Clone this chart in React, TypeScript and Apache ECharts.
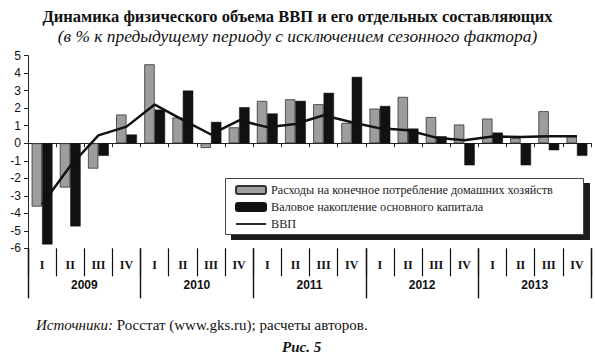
import React, { useEffect, useRef } from "react";
import * as echarts from "echarts";

const quarters = ["I", "II", "III", "IV", "I", "II", "III", "IV", "I", "II", "III", "IV", "I", "II", "III", "IV", "I", "II", "III", "IV"];
const years = ["2009", "2010", "2011", "2012", "2013"];
const consumption = [-3.62, -2.53, -1.45, 1.64, 4.51, 1.47, -0.27, 0.91, 2.42, 2.51, 2.23, 1.16, 1.98, 2.65, 1.5, 1.07, 1.41, 0.3, 1.83, 0.4];
const investment = [-5.78, -4.75, -0.72, 0.5, 1.92, 3.01, 1.22, 2.06, 1.7, 2.42, 2.88, 3.79, 2.13, 0.84, 0.4, -1.26, 0.61, -1.26, -0.4, -0.72];
const gdp = [-3.5, -1.3, 0.45, 0.95, 2.21, 1.34, 0.5, 1.31, 0.92, 1.1, 1.6, 1.2, 0.85, 0.74, 0.32, 0.17, 0.38, 0.36, 0.4, 0.4];
const yTicks = [-6, 5, 1];

const seriesNames = [
  "Расходы на конечное потребление домашних хозяйств",
  "Валовое накопление основного капитала",
  "ВВП",
];
const titleText = "Динамика физического объема ВВП и его отдельных составляющих";
const subtitleText = "(в % к предыдущему периоду с исключением сезонного фактора)";
const sourceLabel = "Источники:";
const sourceText = " Росстат (www.gks.ru); расчеты авторов.";
const figText = "Рис. 5";

const SERIF = "Liberation Serif";
const SANS = "Liberation Sans";

export default function App() {
  const ref = useRef<HTMLDivElement>(null);
  useEffect(() => {
    document.body.style.margin = "0";
    if (!ref.current) return;
    const chart = echarts.init(ref.current, null, { renderer: "svg" });
    const grid = { left: 28, right: 4, top: 55.7, bottom: 106.7 };
    chart.setOption({
      animation: false,
      backgroundColor: "#fff",
      title: [
        {
          text: titleText,
          left: "center",
          top: 3,
          textStyle: { fontFamily: SERIF, fontWeight: "bold", fontSize: 16.5, color: "#111" },
        },
        {
          text: subtitleText,
          left: "center",
          top: 22,
          textStyle: { fontFamily: SERIF, fontStyle: "italic", fontWeight: "normal", fontSize: 17.4, color: "#111" },
        },
        {
          text: "{i|" + sourceLabel + "}{n|" + sourceText + "}",
          left: 31,
          top: 312,
          textStyle: {
            fontWeight: "normal",
            rich: {
              i: { fontFamily: SERIF, fontStyle: "italic", fontWeight: "normal", fontSize: 15, color: "#111" },
              n: { fontFamily: SERIF, fontWeight: "normal", fontSize: 15, color: "#111" },
            },
          },
        },
        {
          text: figText,
          left: 277,
          top: 334,
          textStyle: { fontFamily: SERIF, fontStyle: "italic", fontWeight: "bold", fontSize: 15, color: "#111" },
        },
      ],
      grid,
      legend: {
        orient: "vertical",
        left: 235,
        top: 183,
        padding: 0,
        itemGap: 3,
        itemWidth: 30,
        itemHeight: 8,
        symbolKeepAspect: true,
        data: [
          { name: seriesNames[0] },
          { name: seriesNames[1] },
          { name: seriesNames[2], icon: "path://M0,0H30V1.8H0Z" },
        ],
        textStyle: { fontFamily: SERIF, fontSize: 12.2, color: "#222", lineHeight: 14 },
        z: 10,
      },
      graphic: [
        { type: "rect", left: 231, top: 183, shape: { width: 359, height: 57 }, style: { fill: "#1c1c1c" }, z: 5 },
        { type: "rect", left: 225, top: 178, shape: { width: 358, height: 56 }, style: { fill: "#fff", stroke: "#444", lineWidth: 1 }, z: 6 },
      ],
      xAxis: [
        {
          type: "category",
          data: quarters,
          axisLine: { onZero: true, lineStyle: { color: "#222", width: 1 } },
          axisTick: { show: true, length: 4, lineStyle: { color: "#222" } },
          axisLabel: { show: false },
          splitLine: { show: false },
        },
        {
          type: "category",
          data: quarters,
          position: "bottom",
          axisLine: { show: false, onZero: false },
          axisTick: { show: true, length: 28, interval: 0, lineStyle: { color: "#111", width: 1.2 } },
          axisLabel: { interval: 0, margin: 11, fontFamily: SERIF, fontSize: 12, color: "#111", fontWeight: "bold" },
        },
        {
          type: "category",
          data: years,
          position: "bottom",
          axisLine: { show: false, onZero: false },
          axisTick: { show: true, length: 50, interval: 0, lineStyle: { color: "#111", width: 1.4 } },
          axisLabel: { interval: 0, margin: 31, fontFamily: SANS, fontSize: 12, color: "#111", fontWeight: "bold" },
        },
      ],
      yAxis: {
        type: "value",
        min: yTicks[0],
        max: yTicks[1],
        interval: yTicks[2],
        axisLine: { show: true, lineStyle: { color: "#222", width: 1 } },
        axisTick: { show: true, length: 4, lineStyle: { color: "#222" } },
        splitLine: { show: false },
        axisLabel: { margin: 7, fontFamily: SANS, fontSize: 12, color: "#111" },
      },
      series: [
        {
          name: seriesNames[0],
          type: "bar",
          data: consumption,
          barGap: "0%",
          barCategoryGap: "26%",
          itemStyle: { color: "#9d9d9d", borderColor: "#333", borderWidth: 0.8 },
          z: 2,
        },
        {
          name: seriesNames[1],
          type: "bar",
          data: investment,
          barGap: "0%",
          barCategoryGap: "26%",
          itemStyle: { color: "#111", borderColor: "#111", borderWidth: 0.5 },
          z: 2,
        },
        {
          name: seriesNames[2],
          type: "line",
          data: gdp,
          symbol: "none",
          lineStyle: { color: "#111", width: 2.5 },
          itemStyle: { color: "#111" },
          z: 3,
        },
      ],
    });
    return () => chart.dispose();
  }, []);
  return <div ref={ref} style={{ width: 595, height: 355 }} />;
}
